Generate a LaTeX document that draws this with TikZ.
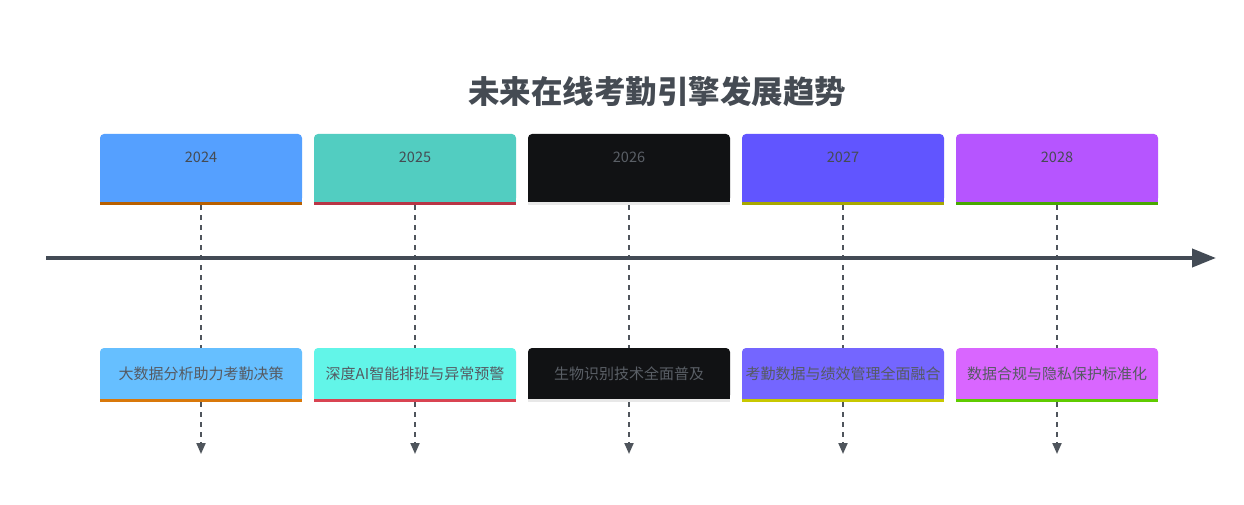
\documentclass[tikz,border=0pt]{standalone}
\usepackage{fontspec}
\setmainfont{Noto Sans CJK SC}
\usetikzlibrary{arrows.meta}
\definecolor{ink}{HTML}{454B53}
\definecolor{inkC}{HTML}{5A5F66}
\definecolor{evink}{HTML}{555A62}
\definecolor{axis}{HTML}{434B55}
\definecolor{dashc}{HTML}{4F555C}
\definecolor{tA}{HTML}{55A0FF}\definecolor{bA}{HTML}{66BFFF}\definecolor{lA}{HTML}{B86000}\definecolor{mA}{HTML}{D9780A}
\definecolor{tB}{HTML}{52CDC1}\definecolor{bB}{HTML}{62F5E8}\definecolor{lB}{HTML}{B83545}\definecolor{mB}{HTML}{D94452}
\definecolor{tC}{HTML}{111214}\definecolor{bC}{HTML}{111214}\definecolor{lC}{HTML}{E8E8E8}\definecolor{mC}{HTML}{E8E8E8}
\definecolor{tD}{HTML}{6155FF}\definecolor{bD}{HTML}{7466FF}\definecolor{lD}{HTML}{A8A800}\definecolor{mD}{HTML}{C8C800}
\definecolor{tE}{HTML}{B655FF}\definecolor{bE}{HTML}{D966FF}\definecolor{lE}{HTML}{48A800}\definecolor{mE}{HTML}{5FCC00}
\tikzset{
  x=1pt,y=-1pt,
  yearbox/.style={rectangle,rounded corners=4pt,minimum width=202pt,inner xsep=0pt,inner ysep=0pt,anchor=base,
    text height=29pt,text depth=39pt,font=\fontsize{14.5}{17}\selectfont},
  evbox/.style={rectangle,rounded corners=4pt,minimum width=202pt,minimum height=51pt,inner sep=0pt,
    font=\fontsize{15}{18}\selectfont},
  conn/.style={draw=dashc,line width=2pt,dash pattern=on 5pt off 5pt},
  connarrow/.style={conn,-{Triangle[length=11pt,width=9pt]}},
}
\begin{document}
\begin{tikzpicture}
\useasboundingbox[fill=white] (0,0) rectangle (1244,505);
\node[font=\fontsize{31.5}{38}\selectfont\bfseries,text=ink] (title) at (657,92) {未来在线考勤引擎发展趋势};
% boxes
\foreach \i/\x/\yr/\ev/\c/\tc/\ec in {
  1/201/2024/大数据分析助力考勤决策/A/ink/evink,
  2/415/2025/深度AI智能排班与异常预警/B/ink/evink,
  3/629/2026/生物识别技术全面普及/C/inkC/inkC,
  4/843/2027/考勤数据与绩效管理全面融合/D/ink/evink,
  5/1057/2028/数据合规与隐私保护标准化/E/ink/evink}{
  \node[yearbox,fill=t\c,text=\tc] (y\i) at (\x,163) {\yr};
  \fill[t\c] ([yshift=5pt]y\i.south west) rectangle (y\i.south east);
  \fill[l\c] (y\i.south west) rectangle ([yshift=-3pt]y\i.south east);
  \node[evbox,fill=b\c,text=\ec] (e\i) at (\x,373.5) {\ev};
  \fill[b\c] ([yshift=5pt]e\i.south west) rectangle (e\i.south east);
  \fill[m\c] (e\i.south west) rectangle ([yshift=-3pt]e\i.south east);
  \coordinate (end\i) at (\x,454);
  \draw[conn] ([yshift=-3pt]y\i.south) -- (e\i.north);
  \draw[connarrow] ([yshift=-3pt]e\i.south) -- (end\i);
}
% axis
\coordinate (axstart) at (46,258);
\coordinate (axend) at (1216,258);
\draw[axis,line width=4pt,-{Triangle[length=24pt,width=18pt]}] (axstart) -- (axend);
\end{tikzpicture}
\end{document}
